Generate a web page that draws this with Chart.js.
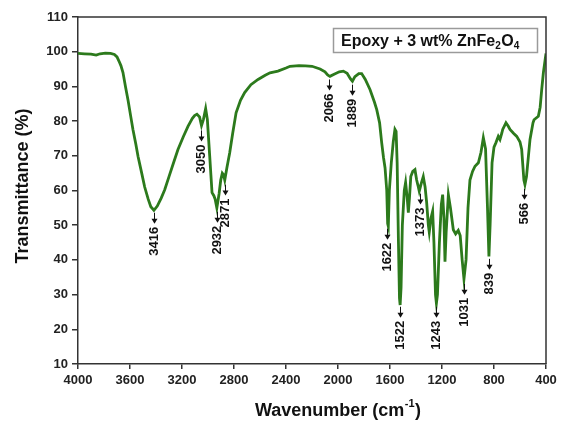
<!DOCTYPE html>
<html><head><meta charset="utf-8">
<script src="https://cdn.jsdelivr.net/npm/chart.js@4/dist/chart.umd.min.js"></script>
<style>html,body{margin:0;padding:0;background:#fff;}#wrap{width:565px;height:421px;position:relative;}</style>
</head><body><div id="wrap"><canvas id="c" width="565" height="421"></canvas></div>
<script>
// ---- data ----
const wavenumbers = [4000,3950,3900,3860,3830,3790,3750,3720,3700,3685,3670,3654,3635,3615,3595,3577,3555,3538,3510,3487,3460,3440,3416,3390,3360,3333,3300,3265,3231,3190,3154,3120,3103,3085,3065,3050,3035,3018,3005,2987,2969,2955,2945,2932,2915,2902,2890,2880,2871,2855,2833,2810,2784,2750,2718,2670,2615,2560,2523,2462,2400,2369,2300,2250,2200,2138,2100,2080,2062,2030,1990,1959,1930,1905,1889,1870,1840,1818,1790,1754,1720,1702,1680,1664,1650,1638,1625,1618,1613,1605,1590,1575,1562,1553,1545,1535,1527,1522,1515,1505,1490,1480,1468,1459,1450,1440,1425,1408,1395,1385,1375,1360,1344,1330,1318,1305,1298,1285,1272,1262,1250,1243,1235,1220,1205,1195,1185,1177,1168,1151,1135,1113,1095,1075,1060,1045,1031,1015,1000,985,965,946,920,900,882,865,850,839,830,815,800,785,767,754,740,733,708,690,677,650,625,600,587,570,562,550,535,523,500,492,459,445,433,420,400];
const transmittance = [99.5,99.4,99.3,99.0,99.4,99.6,99.5,99.2,98.5,97.3,96,94,90,86,81.5,77.5,73.3,69.8,65,61,57.5,55.3,54.3,55.5,57.8,60.2,64,68,71.8,75.5,78.5,80.8,81.6,82,81.2,78.7,80.5,83.6,80.5,70,59.4,58.5,57.5,55,59,63,65,64.5,63,66.5,70.9,76.5,82.4,86,88.2,90.5,92,93.2,93.9,94.4,95.3,95.8,96,95.9,95.8,95,94.2,93.3,92.9,93.5,94.2,94.4,93.8,92.2,91.5,92.8,93.7,93.7,92,89.1,85.5,83.3,79.5,73.8,69.5,66.5,60,50.5,49.7,60,68,74,77.6,77,68,45,29,27,32,50,60,62.3,58,53.6,58,64,65.5,66,63,61.5,59.8,62,64,61,56.5,50,48,52,54,45,30,27.5,30,45,56,58.8,52,39.5,48,58.8,55,48.7,47.5,48.5,47,40,34.5,40,55,63,65.5,67,68,71,75.2,72,55,41,50,68,72.5,73.8,75.6,74.7,76.5,77.6,79.5,78.5,77.6,76.5,75.6,74,71.8,63,61.7,64,70,74.7,79.5,80.4,81.4,84,89.1,94,99.5];
const xTicks = [4000,3600,3200,2800,2400,2000,1600,1200,800,400];
const yTicks = [10,20,30,40,50,60,70,80,90,100,110];
const peakLabels = ['3416','3050','2932','2871','2066','1889','1622','1522','1373','1243','1031','839','566'];
const peakWavenumbers = [3416,3050,2932,2871,2066,1889,1622,1522,1373,1243,1031,839,566];
const peakArrowTop = [53.6,77.3,53.9,61.7,92,90.5,49,26.5,59.1,26.5,33.1,40.3,60.5];
const legendParts = [['Epoxy + 3 wt% ZnFe',''],['2','sub'],['O',''],['4','sub']];
const xTitle = ['Wavenumber (cm','-1',')'];
const yTitle = 'Transmittance (%)';

const FONT = '"Liberation Sans", Arial, sans-serif';
const lineColor = 'rgb(44,122,28)';

const decor = {
  id: 'decor',
  afterDraw(chart) {
    const {ctx, chartArea: ca, scales} = chart;
    const xs = scales.x, ys = scales.y;
    ctx.save();
    // frame top & right
    ctx.strokeStyle = '#333'; ctx.lineWidth = 1.5;
    ctx.beginPath();
    ctx.moveTo(ca.left, ca.top); ctx.lineTo(ca.right, ca.top); ctx.lineTo(ca.right, ca.bottom);
    ctx.stroke();
    // peak annotations
    ctx.fillStyle = '#111'; ctx.strokeStyle = '#111'; ctx.lineWidth = 1;
    peakLabels.forEach((lab, i) => {
      const px = Math.round(xs.getPixelForValue(peakWavenumbers[i])) + 0.5;
      const py = ys.getPixelForValue(peakArrowTop[i]);
      const head = py + 11;
      ctx.beginPath(); ctx.moveTo(px, py); ctx.lineTo(px, head - 4); ctx.stroke();
      ctx.beginPath(); ctx.moveTo(px - 3, head - 5); ctx.lineTo(px + 3, head - 5); ctx.lineTo(px, head); ctx.closePath(); ctx.fill();
      ctx.save();
      ctx.translate(px, head + 3);
      ctx.rotate(-Math.PI / 2);
      ctx.font = 'bold 13px ' + FONT;
      ctx.textAlign = 'right'; ctx.textBaseline = 'middle';
      ctx.fillText(lab, 0, 0);
      ctx.restore();
    });
    // legend box
    ctx.strokeStyle = '#9a9a9a'; ctx.lineWidth = 1.5;
    ctx.strokeRect(333.5, 28.5, 204, 24);
    let tx = 341;
    ctx.fillStyle = '#111'; ctx.textBaseline = 'alphabetic'; ctx.textAlign = 'left';
    legendParts.forEach(([t, kind]) => {
      if (kind === 'sub') { ctx.font = 'bold 10px ' + FONT; ctx.fillText(t, tx, 49); }
      else { ctx.font = 'bold 16px ' + FONT; ctx.fillText(t, tx, 46); }
      tx += ctx.measureText(t).width + (kind === 'sub' ? 0.5 : 0);
    });
    // x title
    ctx.font = 'bold 18px ' + FONT;
    const w0 = ctx.measureText(xTitle[0]).width;
    ctx.font = 'bold 11px ' + FONT;
    const w1 = ctx.measureText(xTitle[1]).width;
    ctx.font = 'bold 18px ' + FONT;
    const w2 = ctx.measureText(xTitle[2]).width;
    let sx = 338 - (w0 + w1 + w2 + 1) / 2;
    ctx.fillText(xTitle[0], sx, 416);
    ctx.font = 'bold 11px ' + FONT;
    ctx.fillText(xTitle[1], sx + w0 + 0.5, 407);
    ctx.font = 'bold 18px ' + FONT;
    ctx.fillText(xTitle[2], sx + w0 + w1 + 1, 416);
    // y title
    ctx.save();
    ctx.translate(28, 186);
    ctx.rotate(-Math.PI / 2);
    ctx.textAlign = 'center'; ctx.textBaseline = 'alphabetic';
    ctx.font = 'bold 18px ' + FONT;
    ctx.fillText(yTitle, 0, 0);
    ctx.restore();
    ctx.restore();
  }
};

new Chart(document.getElementById('c'), {
  type: 'line',
  data: {
    datasets: [{
      data: wavenumbers.map((x, i) => ({x, y: transmittance[i]})),
      borderColor: lineColor,
      borderWidth: 2.8,
      pointRadius: 0,
      tension: 0,
      fill: false
    }]
  },
  options: {
    responsive: false,
    devicePixelRatio: 1,
    animation: false,
    layout: {padding: {top: 17, right: 19, left: 0, bottom: 0}},
    plugins: {legend: {display: false}, tooltip: {enabled: false}},
    scales: {
      x: {
        type: 'linear', reverse: true, min: 400, max: 4000,
        afterBuildTicks: s => { s.ticks = xTicks.map(v => ({value: v})); },
        afterFit: s => { s.height = 57; },
        ticks: {font: {family: FONT, size: 13, weight: 'bold'}, color: '#222', padding: 4, maxRotation: 0, autoSkip: false, callback: v => String(v)},
        grid: {drawOnChartArea: false, tickLength: 5, color: '#333', lineWidth: 1.5},
        border: {color: '#333', width: 1.5}
      },
      y: {
        min: 10, max: 110,
        afterBuildTicks: s => { s.ticks = yTicks.map(v => ({value: v})); },
        afterFit: s => { s.width = 78; },
        ticks: {font: {family: FONT, size: 13, weight: 'bold'}, color: '#222', padding: 4, autoSkip: false, callback: v => String(v)},
        grid: {drawOnChartArea: false, tickLength: 6, color: '#333', lineWidth: 1.5},
        border: {color: '#333', width: 1.5}
      }
    }
  },
  plugins: [decor]
});
</script>
</body></html>
